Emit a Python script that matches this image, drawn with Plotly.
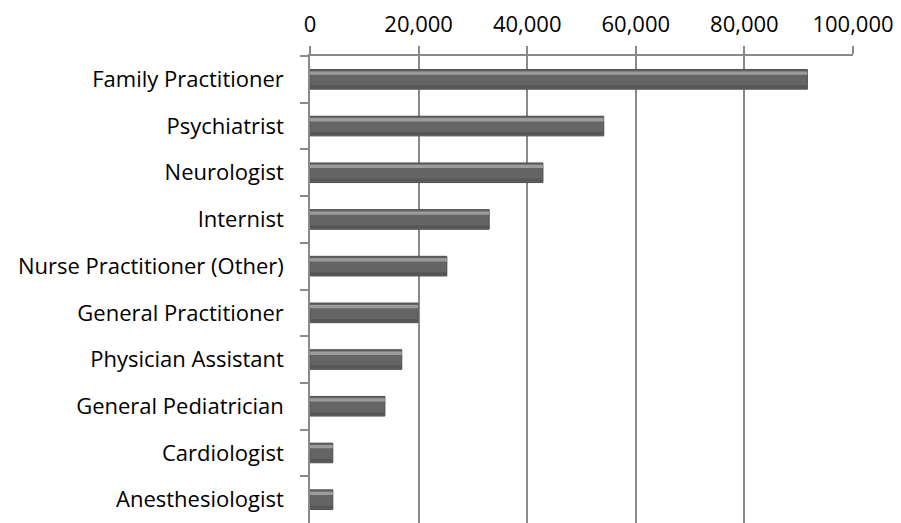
import plotly.graph_objects as go

categories = ["Family Practitioner", "Psychiatrist", "Neurologist", "Internist",
              "Nurse Practitioner (Other)", "General Practitioner", "Physician Assistant",
              "General Pediatrician", "Cardiologist", "Anesthesiologist"]
values = [91600, 54100, 42900, 33000, 25200, 19900, 16900, 13800, 4200, 4200]
x_ticks = [0, 20000, 40000, 60000, 80000, 100000]
x_tick_labels = ["0", "20,000", "40,000", "60,000", "80,000", "100,000"]

fig = go.Figure()
# main bar body
fig.add_trace(go.Bar(
    y=categories, x=values, orientation="h", width=0.42,
    marker=dict(color="#656565", line=dict(color="#4e4e4e", width=1)),
    hoverinfo="x+y", showlegend=False,
))
# top highlight (bevel)
fig.add_trace(go.Bar(
    y=categories, x=values, orientation="h", width=0.07, offset=-0.17,
    marker=dict(color="#9c9c9c", line=dict(width=0)),
    hoverinfo="skip", showlegend=False,
))
# bottom shadow
fig.add_trace(go.Bar(
    y=categories, x=values, orientation="h", width=0.06, offset=0.13,
    marker=dict(color="#565656", line=dict(width=0)),
    hoverinfo="skip", showlegend=False,
))

# page body has an 8px default margin, so the figure is sized to fit inside it
fig.update_layout(
    width=893, height=515,
    margin=dict(l=302, r=48, t=48, b=0),
    paper_bgcolor="white", plot_bgcolor="white",
    barmode="overlay",
    font=dict(family="'Open Sans', Lato, sans-serif", size=22, color="#000000"),
    xaxis=dict(
        side="top", range=[0, 100000], tickvals=x_ticks, ticktext=x_tick_labels,
        showgrid=True, gridcolor="#8a8a8a", gridwidth=1.5,
        showline=True, linecolor="#8a8a8a", linewidth=1.5,
        ticks="outside", ticklen=8, tickcolor="#8a8a8a", tickwidth=1.5,
        ticklabelstandoff=5, zeroline=False, fixedrange=True, automargin=False,
        ticklabeloverflow="allow",
    ),
    yaxis=dict(
        categoryorder="array", categoryarray=categories, autorange="reversed",
        showgrid=False, showline=True, linecolor="#8a8a8a", linewidth=1.5,
        ticks="outside", ticklen=8, tickcolor="#8a8a8a", tickwidth=1.5,
        tickson="boundaries", ticklabelstandoff=20, fixedrange=True, automargin=False,
    ),
)

fig.write_html("out.html")
